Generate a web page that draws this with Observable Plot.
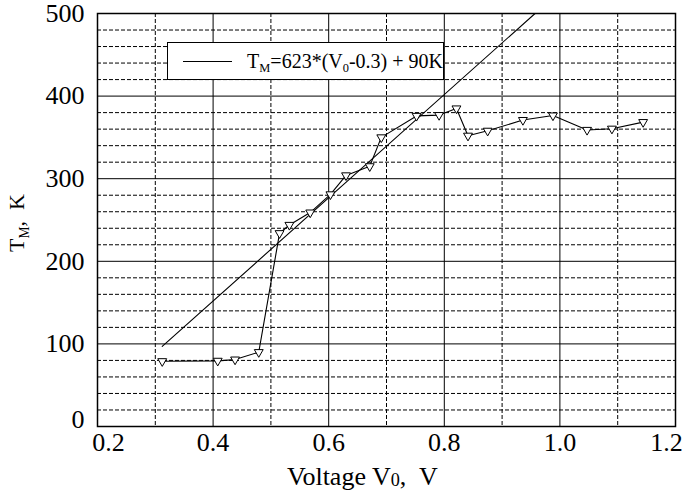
<!DOCTYPE html>
<html>
<head>
<meta charset="utf-8">
<script src="https://cdn.jsdelivr.net/npm/d3@7"></script>
<script src="https://cdn.jsdelivr.net/npm/@observablehq/plot@0.6"></script>
<style>
  html, body { margin: 0; padding: 0; background: white; }
  #wrap { position: relative; width: 685px; height: 492px; font-family: 'Liberation Serif', 'Times New Roman', serif; color: black; }
  #plot svg text, #plot svg { font-family: 'Liberation Serif', 'Times New Roman', serif !important; }
  #legend { position: absolute; left: 167px; top: 42px; width: 277px; height: 38px; box-sizing: border-box;
            border: 1.5px solid black; background: white; display: flex; align-items: center; font-size: 20px; white-space: nowrap; }
  #legend .sample { display: inline-block; width: 53px; border-top: 1.2px solid black; margin-left: 15px; margin-right: 15px; }
  sub { font-size: 62%; vertical-align: -0.35em; line-height: 0; }
  #xtitle { position: absolute; left: 287px; top: 464px; font-size: 26px; white-space: nowrap; line-height: 1; }
  #xtitle .small { font-size: 70%; vertical-align: -0.08em; }
  #ytitle { position: absolute; left: 17px; top: 223px; font-size: 22px; white-space: nowrap; line-height: 1;
            transform: translate(-50%, -50%) rotate(-90deg); }
</style>
</head>
<body>
<div id="wrap">
  <div id="plot"></div>
  <div id="legend"><span class="sample"></span><span>T<sub>M</sub>=623*(V<sub>0</sub>-0.3) + 90K</span></div>
  <div id="xtitle">Voltage V<span class="small">0</span>,&nbsp; V</div>
  <div id="ytitle">T<sub>M</sub>,&nbsp; K</div>
</div>
<script>
const voltage = [0.312, 0.408, 0.438, 0.479, 0.515, 0.532, 0.568, 0.603, 0.630, 0.671, 0.691, 0.752, 0.791, 0.821, 0.841, 0.875, 0.936, 0.988, 1.047, 1.090, 1.144];
const tempM   = [79, 79.5, 81, 90, 234, 244, 259, 281, 304, 315, 350, 376, 377, 385, 352, 358, 371, 376.5, 359, 360.5, 368.5];

// Fit line endpoints: T = 623*(V0-0.3) + 90
const fitV = [0.312, 0.957];
const fitT = [97, 500];

// Axes / grid
const xTicks = [0.2, 0.4, 0.6, 0.8, 1.0, 1.2];
const xMajor = [0.4, 0.6, 0.8, 1.0];
const xMinor = [0.3, 0.5, 0.7, 0.9, 1.1];
const yTicks = [0, 100, 200, 300, 400, 500];
const yMajor = [100, 200, 300, 400];
const yMinor = [20, 40, 60, 80, 120, 140, 160, 180, 220, 240, 260, 280, 320, 340, 360, 380, 420, 440, 460, 480];

const points = voltage.map((v, i) => ({v, t: tempM[i]}));
const fit = fitV.map((v, i) => ({v, t: fitT[i]}));

const fmt = d3.format(".1f");
const font = "26px";

const chart = Plot.plot({
  width: 685,
  height: 492,
  marginLeft: 97,
  marginRight: 10,
  marginTop: 13,
  marginBottom: 66,
  style: {fontFamily: "'Liberation Serif', 'Times New Roman', serif", fontSize: font, background: "white", color: "black"},
  x: {domain: [0.2, 1.2]},
  y: {domain: [0, 500]},
  marks: [
    Plot.ruleX(xMinor, {stroke: "black", strokeWidth: 1, strokeDasharray: "4,2"}),
    Plot.ruleY(yMinor, {stroke: "black", strokeWidth: 1, strokeDasharray: "4,2"}),
    Plot.ruleX(xMajor, {stroke: "black", strokeWidth: 1}),
    Plot.ruleY(yMajor, {stroke: "black", strokeWidth: 1}),
    Plot.frame({stroke: "black", strokeWidth: 1.5}),
    Plot.line(fit, {x: "v", y: "t", stroke: "black", strokeWidth: 1.1, clip: true}),
    Plot.line(points, {x: "v", y: "t", stroke: "black", strokeWidth: 1.1}),
    Plot.dot(points, {x: "v", y: "t", symbol: "triangle", rotate: 180, r: 3.3, fill: "white", stroke: "black", strokeWidth: 1}),
    Plot.axisX(xTicks.slice(1, -1), {tickSize: 0, tickPadding: 6, tickFormat: fmt, label: null, fontSize: font}),
    Plot.axisX([xTicks[0]], {tickSize: 0, tickPadding: 6, tickFormat: fmt, label: null, fontSize: font, dx: 11}),
    Plot.axisX([xTicks[xTicks.length - 1]], {tickSize: 0, tickPadding: 6, tickFormat: fmt, label: null, fontSize: font, dx: -9}),
    Plot.axisY(yTicks.slice(1), {tickSize: 0, tickPadding: 13, label: null, fontSize: font}),
    Plot.axisY([yTicks[0]], {tickSize: 0, tickPadding: 13, label: null, fontSize: font, dy: -7})
  ]
});
document.getElementById("plot").appendChild(chart);
</script>
</body>
</html>
